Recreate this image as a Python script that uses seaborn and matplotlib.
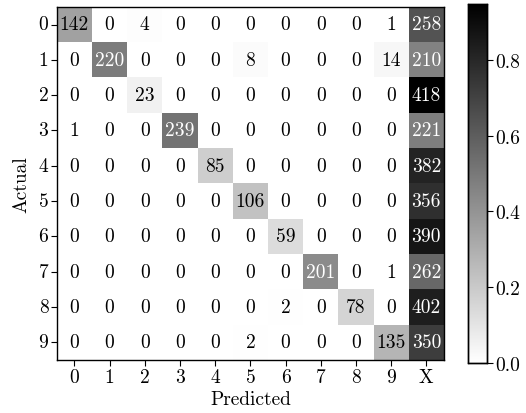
import matplotlib
matplotlib.use("Agg")
import matplotlib.pyplot as plt
import numpy as np
import pandas as pd
import seaborn as sns

# Confusion matrix counts (rows = actual, columns = predicted, X = rejected)
actual_labels = ["0", "1", "2", "3", "4", "5", "6", "7", "8", "9"]
predicted_labels = ["0", "1", "2", "3", "4", "5", "6", "7", "8", "9", "X"]

row_0 = [142, 0, 4, 0, 0, 0, 0, 0, 0, 1, 258]
row_1 = [0, 220, 0, 0, 0, 8, 0, 0, 0, 14, 210]
row_2 = [0, 0, 23, 0, 0, 0, 0, 0, 0, 0, 418]
row_3 = [1, 0, 0, 239, 0, 0, 0, 0, 0, 0, 221]
row_4 = [0, 0, 0, 0, 85, 0, 0, 0, 0, 0, 382]
row_5 = [0, 0, 0, 0, 0, 106, 0, 0, 0, 0, 356]
row_6 = [0, 0, 0, 0, 0, 0, 59, 0, 0, 0, 390]
row_7 = [0, 0, 0, 0, 0, 0, 0, 201, 0, 1, 262]
row_8 = [0, 0, 0, 0, 0, 0, 2, 0, 78, 0, 402]
row_9 = [0, 0, 0, 0, 0, 2, 0, 0, 0, 135, 350]

counts = pd.DataFrame(
    [row_0, row_1, row_2, row_3, row_4, row_5, row_6, row_7, row_8, row_9],
    index=actual_labels, columns=predicted_labels,
)
# colour by row-normalised fraction
fractions = counts.div(counts.sum(axis=1), axis=0)
vmax = fractions.values.max()

plt.rcParams['font.family'] = 'serif'
plt.rcParams['font.serif'] = ['cmr10']
plt.rcParams['mathtext.fontset'] = 'cm'
plt.rcParams['axes.unicode_minus'] = False
plt.rcParams['axes.formatter.use_mathtext'] = True

fig = plt.figure(figsize=(5.26, 4.14), dpi=100)
ax = fig.add_axes([0.108, 0.128, 0.736, 0.853])
cax = fig.add_axes([0.890, 0.121, 0.036, 0.867])

sns.heatmap(fractions, annot=counts, fmt='d', cmap='gray_r', vmin=0, vmax=vmax,
            ax=ax, cbar_ax=cax, annot_kws={'fontsize': 14})

# white text on the dark cells, black elsewhere
for txt, frac in zip(ax.texts, fractions.values.ravel()):
    txt.set_color('white' if frac / vmax > 0.42 else 'black')

for side in ['left', 'right', 'top', 'bottom']:
    ax.spines[side].set_visible(True)
    ax.spines[side].set_color('black')
    ax.spines[side].set_linewidth(1.0)
ax.tick_params(axis='both', length=4, width=0.8, labelsize=14, color='black', pad=2)
ax.set_yticklabels(actual_labels, rotation=0)
ax.set_xticklabels(predicted_labels, rotation=0)
ax.set_xlabel('Predicted', fontsize=14, labelpad=3)
ax.set_ylabel('Actual', fontsize=14, labelpad=6)

cax.tick_params(labelsize=14, length=4, width=0.8, pad=2)
cax.set_yticks([0.0, 0.2, 0.4, 0.6, 0.8])
cax.set_yticklabels(['0.0', '0.2', '0.4', '0.6', '0.8'])
for s in cax.spines.values():
    s.set_visible(True)
    s.set_color('black')
    s.set_linewidth(1.0)

fig.savefig('out.png', dpi=100)
